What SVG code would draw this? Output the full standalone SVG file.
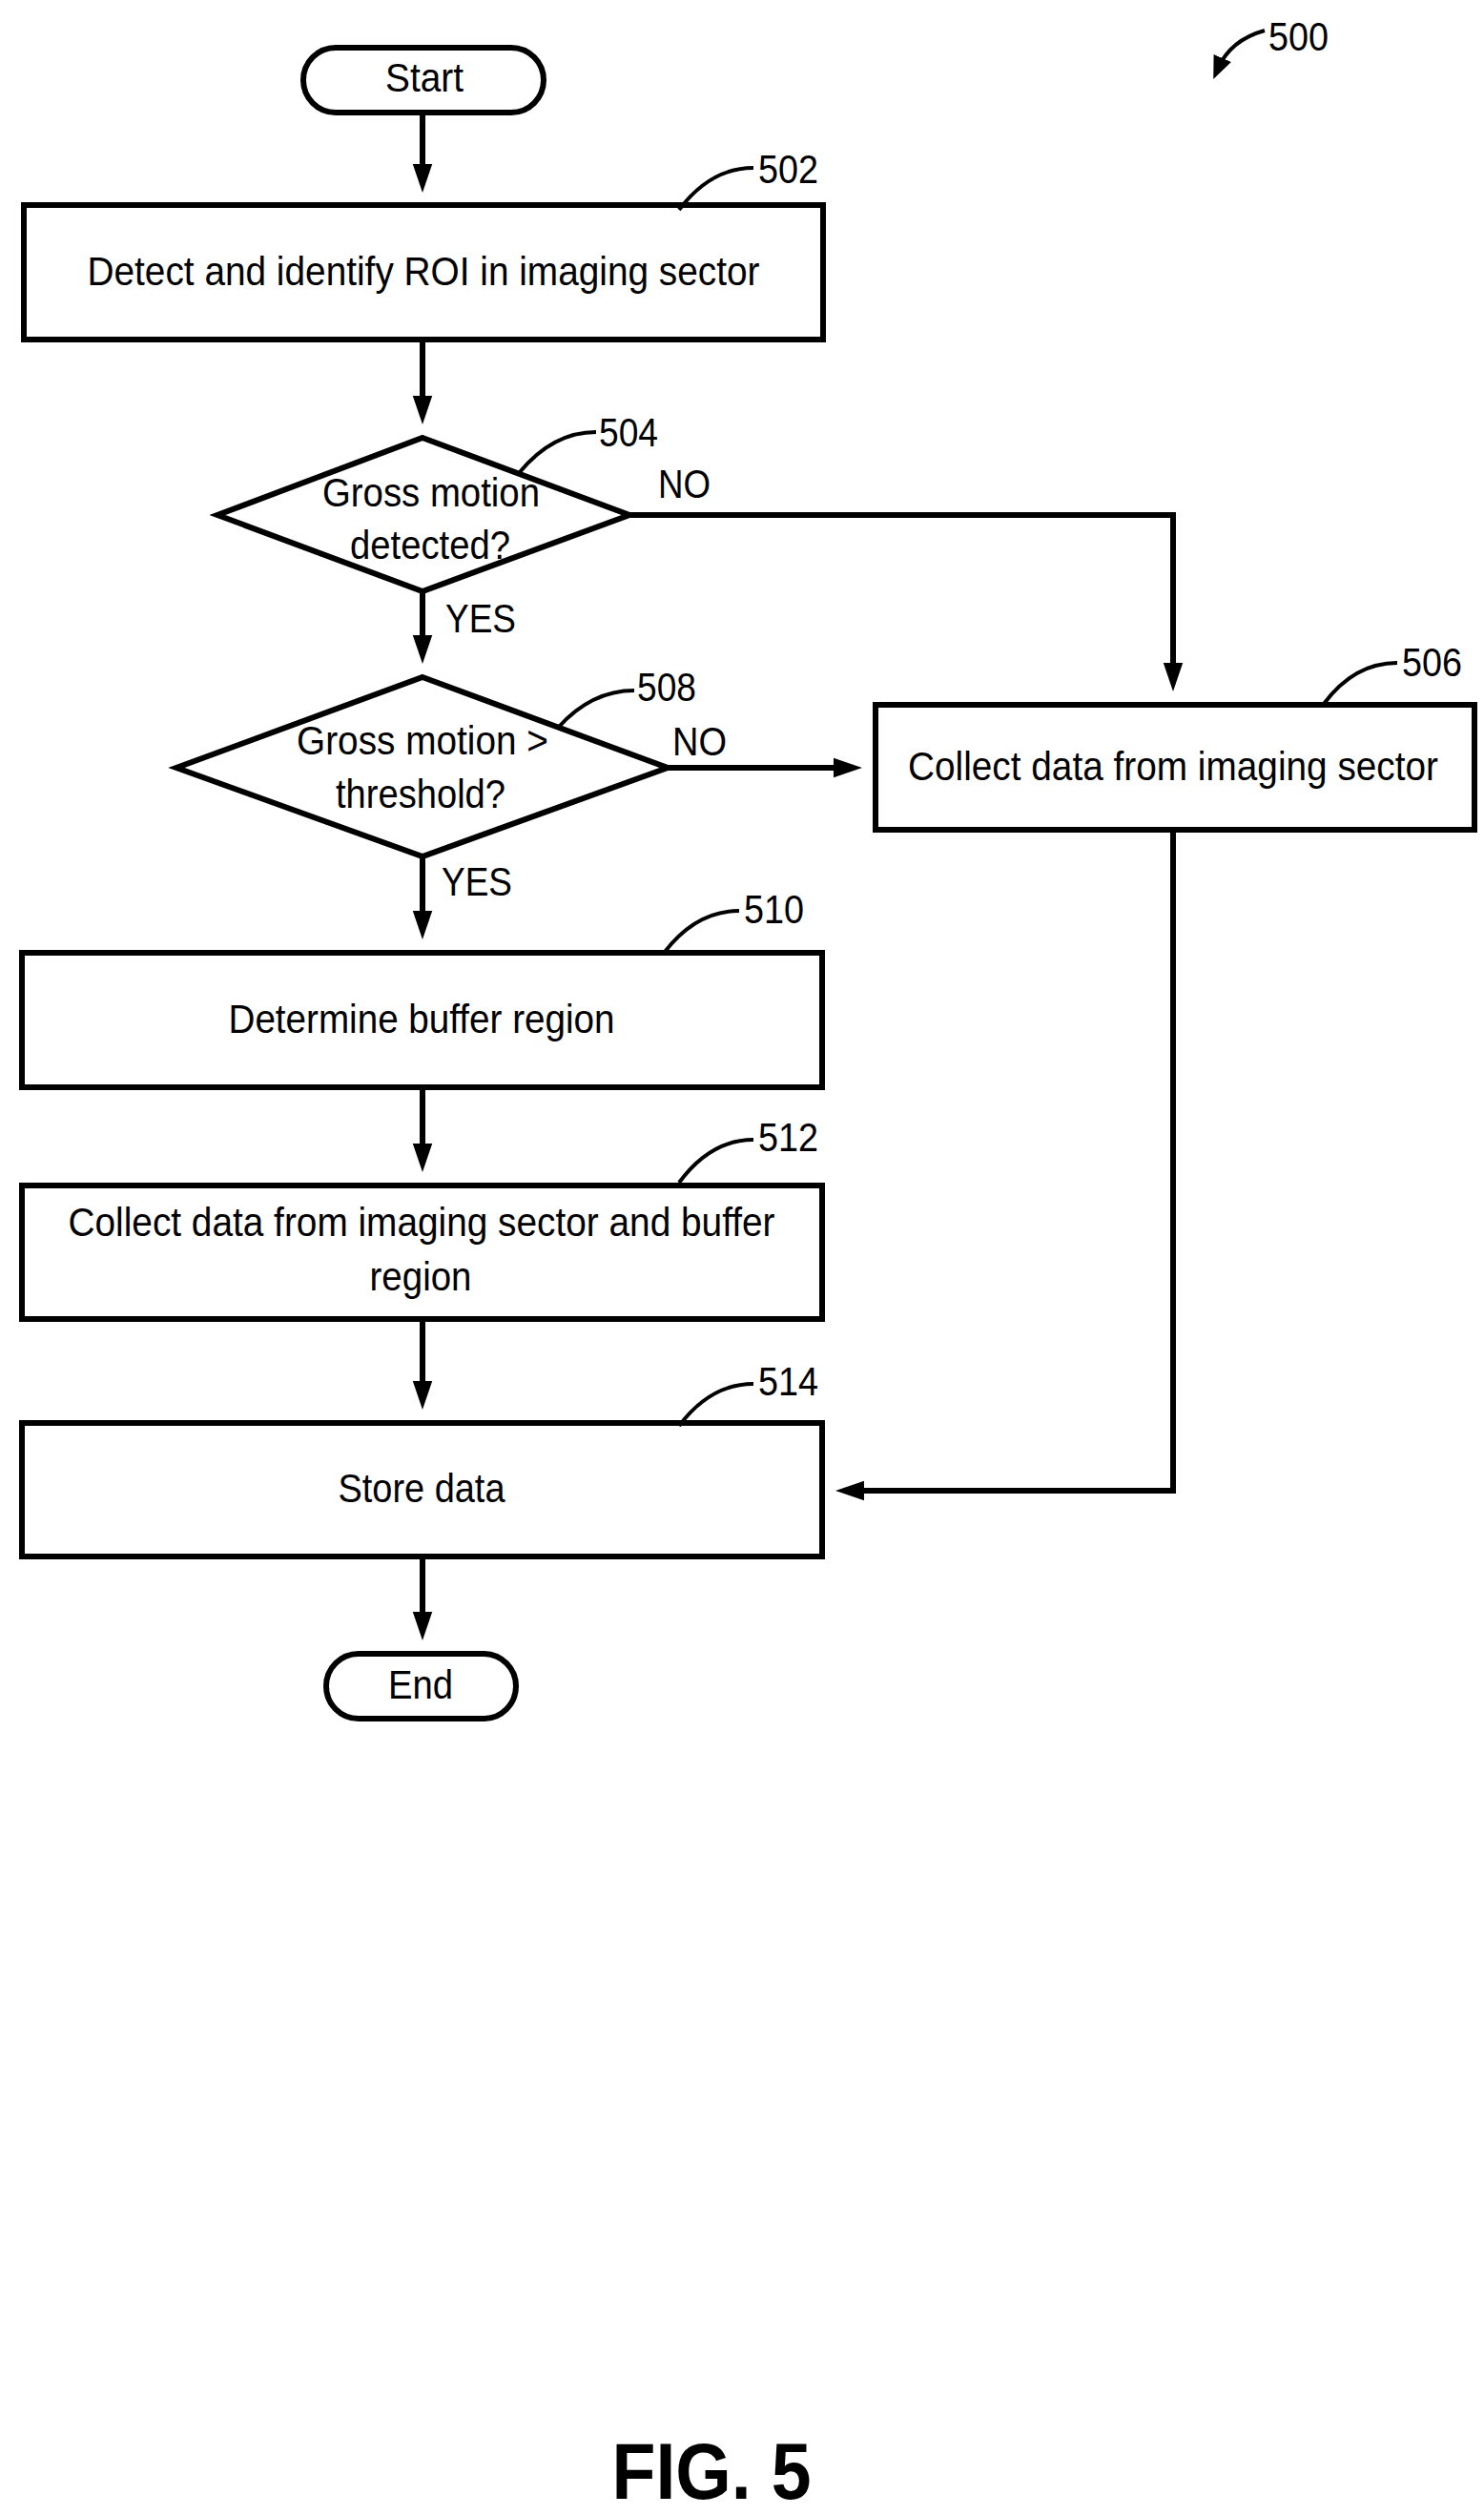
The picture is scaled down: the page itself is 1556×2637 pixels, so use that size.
<svg xmlns="http://www.w3.org/2000/svg" width="1556" height="2637" viewBox="0 0 1556 2637">
<style>
.n{fill:#fff;stroke:#000;stroke-width:6}
.c{fill:none;stroke:#000;stroke-width:6}
.l{fill:none;stroke:#000;stroke-width:4}
text{font-family:"Liberation Sans",Arial,sans-serif;font-size:42px;fill:#000}
.m{text-anchor:middle}
</style>
<defs>
<marker id="a" markerWidth="30" markerHeight="44" refX="0" refY="15" orient="auto" markerUnits="userSpaceOnUse" viewBox="0 0 44 30">
<path d="M0,0 L44,15 L0,30 Z" fill="#000"/>
</marker>
<marker id="b" markerWidth="24" markerHeight="24" refX="12" refY="12" orient="auto" markerUnits="userSpaceOnUse" viewBox="0 0 24 24">
<path d="M0,2 L24,12 L0,22 Z" fill="#000"/>
</marker>
</defs>
<g id="connectors">
<path class="c" d="M443,118 V172" marker-end="url(#a)"/>
<path class="c" d="M443,356 V415" marker-end="url(#a)"/>
<path class="c" d="M443,620 V666" marker-end="url(#a)"/>
<path class="c" d="M660,540 H1230 V695" marker-end="url(#a)"/>
<path class="c" d="M700,805 H874" marker-end="url(#a)"/>
<path class="c" d="M443,898 V955" marker-end="url(#a)"/>
<path class="c" d="M443,1140 V1199" marker-end="url(#a)"/>
<path class="c" d="M443,1383 V1448" marker-end="url(#a)"/>
<path class="c" d="M1230,870 V1563 H906" marker-end="url(#a)"/>
<path class="c" d="M443,1632 V1690" marker-end="url(#a)"/>
</g>
<g id="start"><rect class="n" x="318" y="50" width="252" height="68" rx="34"/><text class="m" x="445" y="96" textLength="82" lengthAdjust="spacingAndGlyphs">Start</text></g>
<g id="n502"><rect class="n" x="25" y="215" width="838" height="141"/><text class="m" x="444" y="299" textLength="705" lengthAdjust="spacingAndGlyphs">Detect and identify ROI in imaging sector</text></g>
<g id="n504"><path class="n" d="M443,459 L660,540 L443,620 L228,540 Z"/><text class="m" x="452" y="531" textLength="228" lengthAdjust="spacingAndGlyphs">Gross motion</text><text class="m" x="451" y="586" textLength="168" lengthAdjust="spacingAndGlyphs">detected?</text></g>
<g id="n506"><rect class="n" x="918" y="739" width="628" height="131"/><text class="m" x="1230" y="818" textLength="556" lengthAdjust="spacingAndGlyphs">Collect data from imaging sector</text></g>
<g id="n508"><path class="n" d="M443,710 L700,805 L443,898 L185,805 Z"/><text class="m" x="443" y="791" textLength="264" lengthAdjust="spacingAndGlyphs">Gross motion &gt;</text><text class="m" x="441" y="847" textLength="178" lengthAdjust="spacingAndGlyphs">threshold?</text></g>
<g id="n510"><rect class="n" x="23" y="999" width="839" height="141"/><text class="m" x="442" y="1083" textLength="405" lengthAdjust="spacingAndGlyphs">Determine buffer region</text></g>
<g id="n512"><rect class="n" x="23" y="1243" width="839" height="140"/><text class="m" x="442" y="1296" textLength="741" lengthAdjust="spacingAndGlyphs">Collect data from imaging sector and buffer</text><text class="m" x="441" y="1353" textLength="107" lengthAdjust="spacingAndGlyphs">region</text></g>
<g id="n514"><rect class="n" x="23" y="1492" width="839" height="140"/><text class="m" x="442" y="1575" textLength="175" lengthAdjust="spacingAndGlyphs">Store data</text></g>
<g id="end"><rect class="n" x="342" y="1734" width="199" height="68" rx="34"/><text class="m" x="441" y="1781" textLength="68" lengthAdjust="spacingAndGlyphs">End</text></g>
<g id="labels">
<text x="690" y="522" textLength="55" lengthAdjust="spacingAndGlyphs">NO</text>
<text x="467" y="663" textLength="74" lengthAdjust="spacingAndGlyphs">YES</text>
<text x="705" y="792" textLength="57" lengthAdjust="spacingAndGlyphs">NO</text>
<text x="463" y="939" textLength="74" lengthAdjust="spacingAndGlyphs">YES</text>
<path class="l" d="M712,220 Q745,176 790,176"/><text x="795" y="192" textLength="63" lengthAdjust="spacingAndGlyphs">502</text>
<path class="l" d="M545,495 Q580,453 625,453"/><text x="628" y="468" textLength="62" lengthAdjust="spacingAndGlyphs">504</text>
<path class="l" d="M1388,738 Q1420,695 1465,695"/><text x="1470" y="709" textLength="63" lengthAdjust="spacingAndGlyphs">506</text>
<path class="l" d="M585,763 Q620,724 665,724"/><text x="668" y="735" textLength="62" lengthAdjust="spacingAndGlyphs">508</text>
<path class="l" d="M697,998 Q730,955 775,955"/><text x="780" y="968" textLength="63" lengthAdjust="spacingAndGlyphs">510</text>
<path class="l" d="M712,1240 Q745,1195 790,1195"/><text x="795" y="1207" textLength="63" lengthAdjust="spacingAndGlyphs">512</text>
<path class="l" d="M712,1495 Q745,1451 790,1451"/><text x="795" y="1463" textLength="63" lengthAdjust="spacingAndGlyphs">514</text>
<path class="l" d="M1326,32 Q1290,42 1277,72" marker-end="url(#b)"/><text x="1330" y="53" textLength="63" lengthAdjust="spacingAndGlyphs">500</text>
<text class="m" x="746" y="2620" style="font-size:84px;font-weight:bold" textLength="209" lengthAdjust="spacingAndGlyphs">FIG. 5</text>
</g>
</svg>
